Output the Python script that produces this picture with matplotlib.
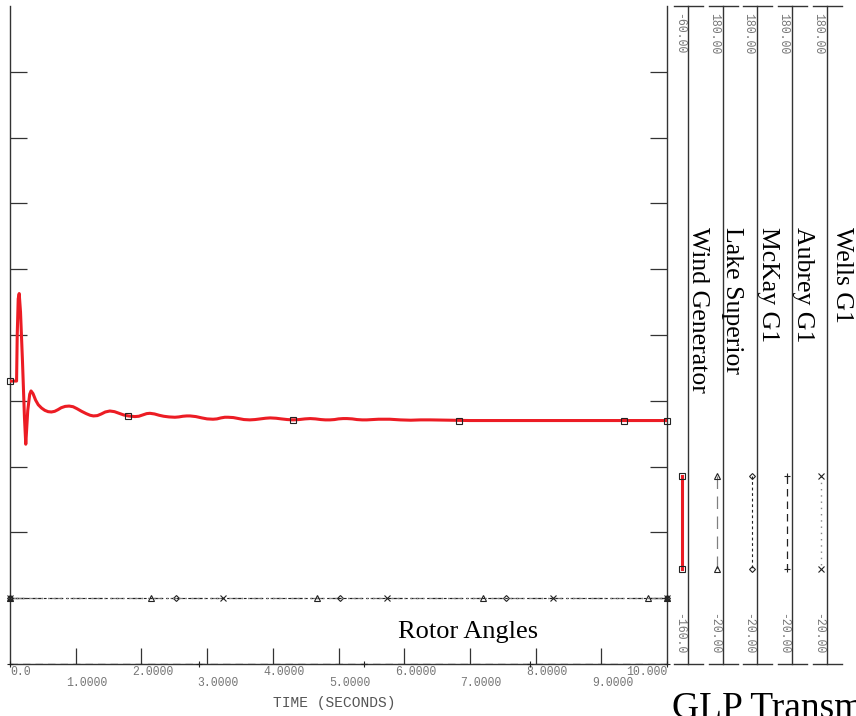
import matplotlib

matplotlib.use("Agg")
import matplotlib.pyplot as plt
from matplotlib import transforms


W, H = 856, 716

# Wind Generator rotor angle (deg)
wind_t = [0.00, 0.10, 0.11, 0.125, 0.14, 0.16, 0.19, 0.22, 0.24, 0.27, 0.30, 0.32,
          0.35, 0.39, 0.43, 0.48, 0.53, 0.58, 0.63, 0.68, 0.73, 0.78, 0.84, 0.90,
          0.96, 1.02, 1.09, 1.16, 1.22, 1.27, 1.33, 1.39, 1.45, 1.52, 1.59, 1.66,
          1.73, 1.80, 1.90, 1.96, 2.02, 2.08, 2.13, 2.20, 2.27, 2.34, 2.42, 2.51,
          2.57, 2.63, 2.69, 2.74, 2.83, 2.92, 3.00, 3.09, 3.15, 3.21, 3.27, 3.32,
          3.40, 3.48, 3.56, 3.65, 3.73, 3.81, 3.89, 3.96, 4.05, 4.13, 4.22, 4.31,
          4.40, 4.49, 4.57, 4.65, 4.73, 4.80, 4.87, 4.94, 5.00, 5.07, 5.13, 5.21,
          5.28, 5.36, 5.43, 5.52, 5.61, 5.70, 5.78, 5.94, 6.10, 6.25, 6.40, 6.70,
          7.00, 7.50, 8.00, 9.00, 10.00]
wind_angle = [-117.0, -117.0, -110.0, -104.5, -103.7, -106.5, -114.0, -122.5, -126.6,
              -121.5, -119.0, -118.5, -118.9, -119.9, -120.6, -121.1, -121.45, -121.65,
              -121.7, -121.6, -121.35, -121.05, -120.85, -120.8, -120.9, -121.2, -121.6,
              -121.95, -122.2, -122.3, -122.25, -122.0, -121.7, -121.55, -121.65, -121.9,
              -122.15, -122.3, -122.4, -122.35, -122.15, -121.95, -121.9, -122.0, -122.2,
              -122.35, -122.45, -122.5, -122.45, -122.35, -122.3, -122.3, -122.4, -122.6,
              -122.75, -122.8, -122.75, -122.6, -122.5, -122.5, -122.55, -122.7, -122.85,
              -122.9, -122.85, -122.75, -122.65, -122.6, -122.65, -122.75, -122.85, -122.9,
              -122.85, -122.75, -122.7, -122.75, -122.85, -122.9, -122.9, -122.85, -122.75,
              -122.7, -122.7, -122.75, -122.85, -122.9, -122.9, -122.85, -122.8, -122.8,
              -122.8, -122.9, -122.95, -122.9, -122.9, -122.95, -123.0, -123.0, -123.0,
              -123.0, -123.0]
wind_mark_t = [0.0, 1.80, 4.31, 6.83, 9.35, 10.0]
wind_mark_angle = [-117.0, -122.3, -122.9, -123.0, -123.0, -123.0]

# other machines (right-hand scale -20 .. 180)
gen_t = [0.0, 10.0]
lake_angle = [0.0, 0.0]
mckay_angle = [0.0, 0.0]
aubrey_angle = [-20.0, -20.0]
wells_angle = [0.0, 0.0]
lake_mark_t = [0.0, 2.15, 4.67, 7.20, 9.71, 10.0]
mckay_mark_t = [0.0, 2.53, 5.02, 7.55, 10.0]
aubrey_mark_t = [0.0, 2.88, 5.39, 7.91, 10.0]
wells_mark_t = [0.0, 3.24, 5.74, 8.27, 10.0]

x_ticks = [0, 1, 2, 3, 4, 5, 6, 7, 8, 9, 10]
x_tick_labels = ["0.0", "1.0000", "2.0000", "3.0000", "4.0000", "5.0000",
                 "6.0000", "7.0000", "8.0000", "9.0000", "10.000"]
wind_range = (-160, -60)
gen_range = (-20, 180)

legend_names = ["Wind Generator", "Lake Superior", "McKay G1", "Aubrey G1", "Wells G1"]
scale_top = ["-60.00", "180.00", "180.00", "180.00", "180.00"]
scale_bottom = ["-160.0", "-20.00", "-20.00", "-20.00", "-20.00"]

RED = "#ec1c24"
MONO = "Liberation Mono"
SERIF = "Liberation Serif"

styles = [
    dict(color=RED, lw=2.2, ls="-", marker="s", ms=4.5),
    dict(color="#808080", lw=0.9, ls=(0, (10, 6)), marker="^", ms=4),
    dict(color="#222222", lw=0.8, ls=(0, (2.5, 2.5)), marker="D", ms=3),
    dict(color="#222222", lw=0.9, ls=(0, (6, 4)), marker="+", ms=5),
    dict(color="#888888", lw=1.0, ls=(0, (1, 3.5)), marker="x", ms=4),
]

fig = plt.figure(figsize=(W / 100, H / 100), dpi=100)
ax = fig.add_axes([10 / W, 52 / H, 657 / W, 658 / H])
ax.set_xlim(0, 10)
ax.set_ylim(*wind_range)
ax2 = ax.twinx()
ax2.set_ylim(*gen_range)
ax2.set_yticks([])
for s in ax2.spines.values():
    s.set_visible(False)

ax.spines["top"].set_visible(False)
for side in ("left", "bottom", "right"):
    ax.spines[side].set_color("#333333")
    ax.spines[side].set_linewidth(1.0)
ax.set_yticks(list(range(wind_range[0] + 10, wind_range[1], 10)))
ax.set_xticks(x_ticks[1:-1])
ax.tick_params(axis="y", direction="in", length=12, width=0.9, color="#333333",
               left=True, right=True, labelleft=False, labelright=False)
ax.tick_params(axis="x", direction="in", length=11.5, width=0.9, color="#333333",
               labelbottom=False)

# wind generator
ax.plot(wind_t, wind_angle, color=RED, lw=2.2, zorder=3, solid_joinstyle="round")
ax.plot(wind_mark_t, wind_mark_angle, ls="none", marker="s", ms=5, mfc="none",
        mec="#222222", mew=0.8, zorder=4, clip_on=False)

# the rest on the right-hand scale
series = [(lake_angle, lake_mark_t, styles[1]), (mckay_angle, mckay_mark_t, styles[2]),
          (aubrey_angle, aubrey_mark_t, styles[3]), (wells_angle, wells_mark_t, styles[4])]
for values, mark_t, st in series:
    ax2.plot(gen_t, values, color=st["color"], lw=st["lw"], ls=st["ls"])
    ax2.plot(mark_t, [values[0]] * len(mark_t), ls="none", marker=st["marker"],
             ms=st["ms"], mfc="none", mec="#222222", mew=0.8, clip_on=False)

# x tick labels, two staggered rows
trans = transforms.blended_transform_factory(ax.transData, fig.transFigure)
for t, lab in zip(x_ticks, x_tick_labels):
    y = 1 - (672 if t % 2 == 0 else 683) / H
    if t == 0:
        x, ha = t, "left"
    elif t == 10:
        x, ha = t, "right"
    else:
        x, ha = t + 0.17, "center"
    ax.text(x, y, lab, transform=trans, ha=ha, va="center", family=MONO,
            fontsize=8.3, color="#777777")

# overlay in pixel coordinates for the side scales and legend
ov = fig.add_axes([0, 0, 1, 1], zorder=5)
ov.set_xlim(0, W)
ov.set_ylim(H, 0)
ov.axis("off")

axis_x = [688, 723, 757.5, 792.5, 827]
name_x = [698.5, 732.5, 768, 803, 842]
sample_x = [682, 717, 752, 787, 821]
for i, name in enumerate(legend_names):
    ax_x = axis_x[i]
    ov.plot([ax_x, ax_x], [6, 664], color="#333333", lw=1.0)
    for y in (6, 664):
        ov.plot([ax_x - 14, ax_x + 15], [y, y], color="#333333", lw=1.0)
    ov.text(ax_x - 9, 13, scale_top[i], rotation=270, ha="center", va="top",
            family=MONO, fontsize=8.3, color="#777777")
    ov.text(ax_x - 9, 654, scale_bottom[i], rotation=270, ha="center", va="bottom",
            family=MONO, fontsize=8.3, color="#777777")
    ov.text(name_x[i], 227, name, rotation=270, ha="center", va="top",
            family=SERIF, fontsize=18.5, color="black")
    st = styles[i]
    ov.plot([sample_x[i], sample_x[i]], [476, 569], color=st["color"], lw=st["lw"], ls=st["ls"])
    ov.plot([sample_x[i], sample_x[i]], [476, 569], ls="none", marker=st["marker"],
            ms=st["ms"], mfc="none", mec="#222222", mew=0.8)

ov.text(398, 638, "Rotor Angles", ha="left", va="baseline", family=SERIF,
        fontsize=19, color="black")
ov.text(334, 703, "TIME (SECONDS)", ha="center", va="center", family=MONO,
        fontsize=10.5, color="#555555")
ov.text(672, 718, "GLP Transmission", ha="left", va="baseline", family=SERIF,
        fontsize=27, color="black", clip_on=True)

fig.savefig("out.png", dpi=100)
